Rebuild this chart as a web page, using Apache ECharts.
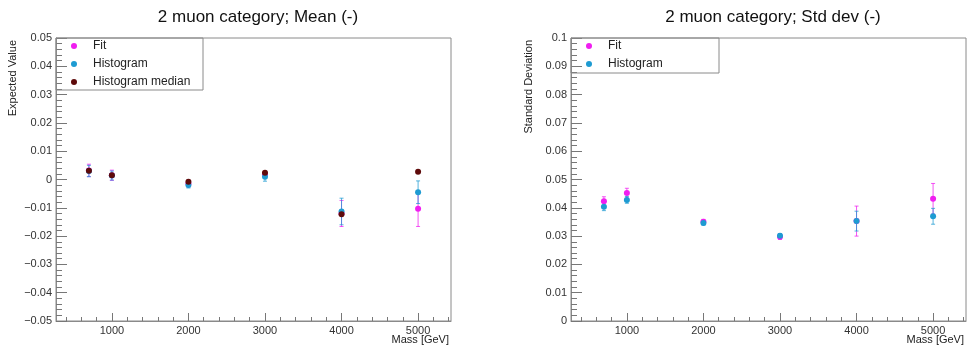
<!DOCTYPE html>
<html>
<head>
<meta charset="utf-8">
<script src="https://cdn.jsdelivr.net/npm/echarts@6/dist/echarts.min.js"></script>
<style>
  html, body { margin: 0; padding: 0; background: #fff; }
  #chart { width: 967px; height: 353px; }
</style>
</head>
<body>
<div id="chart"></div>
<script>
// mass points
const masses = [700, 1000, 2000, 3000, 4000, 5000]
const xMajorTicks = [1000, 2000, 3000, 4000, 5000]
const xMinorTicks = [400, 600, 800, 1200, 1400, 1600, 1800, 2200, 2400, 2600, 2800,
  3200, 3400, 3600, 3800, 4200, 4400, 4600, 4800, 5200, 5400]

// mean (left panel)
const meanFit = [0.0032, 0.0015, -0.0015, 0.0018, -0.0120, -0.0103]
const meanFitErr = [0.0022, 0.0018, 0.0012, 0.0010, 0.0046, 0.0063]
const meanHist = [0.0030, 0.0014, -0.0019, 0.0010, -0.0113, -0.0045]
const meanHistErr = [0.0020, 0.0016, 0.0011, 0.0016, 0.0047, 0.0040]
const meanMedian = [0.0031, 0.0015, -0.0008, 0.0024, -0.0123, 0.0027]

// std dev (right panel)
const sdFit = [0.0423, 0.0452, 0.0351, 0.0298, 0.0353, 0.0432]
const sdFitErr = [0.0016, 0.0017, 0.0008, 0.0010, 0.0053, 0.0054]
const sdHist = [0.0404, 0.0428, 0.0346, 0.0301, 0.0353, 0.0370]
const sdHistErr = [0.0014, 0.0012, 0.0007, 0.0008, 0.0035, 0.0028]

const FIT = '#f01ef0'
const HIST = '#1e9bd2'
const MED = '#5e0a0a'
const FRAME = '#8a8a8a'
const TICK = '#777'
const FONT = 'Liberation Sans, Arial, Helvetica, sans-serif'

const chart = echarts.init(document.getElementById('chart'))

function pts(ys) {
  return masses.map((m, i) => [m, ys[i]])
}
function errs(ys, es) {
  return masses.map((m, i) => [m, ys[i], es[i]])
}
function fmt(v) {
  return parseFloat(v.toFixed(4)).toString().replace('-', '\u2212')
}

function errorSeries(xi, yi, data, color) {
  return {
    type: 'custom',
    xAxisIndex: xi,
    yAxisIndex: yi,
    data: data,
    silent: true,
    z: 1,
    renderItem(params, api) {
      const x = api.value(0), y = api.value(1), e = api.value(2)
      const lo = api.coord([x, y - e])
      const hi = api.coord([x, y + e])
      const st = { stroke: color, lineWidth: 1, opacity: 0.75 }
      return {
        type: 'group',
        children: [
          { type: 'line', shape: { x1: lo[0], y1: lo[1], x2: hi[0], y2: hi[1] }, style: st },
          { type: 'line', shape: { x1: lo[0] - 2, y1: lo[1], x2: lo[0] + 2, y2: lo[1] }, style: st },
          { type: 'line', shape: { x1: hi[0] - 2, y1: hi[1], x2: hi[0] + 2, y2: hi[1] }, style: st }
        ]
      }
    }
  }
}

function dotSeries(name, xi, yi, data, color, z) {
  return {
    name: name,
    type: 'scatter',
    xAxisIndex: xi,
    yAxisIndex: yi,
    data: data,
    symbol: 'circle',
    symbolSize: 6,
    itemStyle: { color: color, opacity: 1 },
    z: z
  }
}

function xAxes(gi) {
  return [
    {
      type: 'value', gridIndex: gi, min: 270, max: 5430, position: 'bottom',
      axisLine: { show: true, onZero: false, lineStyle: { color: FRAME } },
      axisTick: { show: true, inside: true, length: 8, customValues: xMajorTicks, lineStyle: { color: TICK } },
      axisLabel: { customValues: xMajorTicks, margin: 4, fontSize: 11, color: '#333', fontFamily: FONT,
        formatter: v => String(v) },
      splitLine: { show: false }
    },
    {
      type: 'value', gridIndex: gi, min: 270, max: 5430, position: 'bottom',
      axisLine: { show: false, onZero: false },
      axisTick: { show: true, inside: true, length: 4, customValues: xMinorTicks, lineStyle: { color: TICK } },
      axisLabel: { show: false },
      splitLine: { show: false }
    }
  ]
}

function yAxis(gi, min, max) {
  return {
    type: 'value', gridIndex: gi, min: min, max: max, interval: 0.01, position: 'left',
    axisLine: { show: true, onZero: false, lineStyle: { color: FRAME } },
    axisTick: { show: true, inside: true, length: 11, lineStyle: { color: TICK } },
    minorTick: { show: true, splitNumber: 5, length: 6, lineStyle: { color: TICK } },
    axisLabel: { margin: 4, fontSize: 11, color: '#333', fontFamily: FONT, formatter: fmt },
    splitLine: { show: false }
  }
}

const legendCommon = {
  orient: 'vertical',
  padding: 0,
  itemWidth: 6,
  itemHeight: 6,
  itemGap: 4,
  icon: 'circle',
  textStyle: { fontSize: 12, color: '#222', fontFamily: FONT, lineHeight: 14, padding: [0, 0, 0, 11] },
  selectedMode: false
}

chart.setOption({
  animation: false,
  backgroundColor: '#fff',
  title: [
    { text: '2 muon category; Mean (-)', left: 253, top: 4, textAlign: 'center',
      textStyle: { fontSize: 17, fontWeight: 'normal', color: '#111', fontFamily: FONT } },
    { text: '2 muon category; Std dev (-)', left: 768, top: 4, textAlign: 'center',
      textStyle: { fontSize: 17, fontWeight: 'normal', color: '#111', fontFamily: FONT } }
  ],
  grid: [
    { left: 56, top: 38, width: 395, height: 283, show: true, borderColor: FRAME, borderWidth: 1, containLabel: false },
    { left: 571, top: 38, width: 395, height: 283, show: true, borderColor: FRAME, borderWidth: 1, containLabel: false }
  ],
  xAxis: xAxes(0).concat(xAxes(1)),
  yAxis: [yAxis(0, -0.05, 0.05), yAxis(1, 0, 0.1)],
  legend: [
    Object.assign({ left: 71, top: 39, data: ['Fit', 'Histogram', 'Histogram median'] }, legendCommon),
    Object.assign({ left: 586, top: 39, data: ['Fit ', 'Histogram '] }, legendCommon)
  ],
  graphic: [
    { type: 'rect', shape: { x: 56, y: 38, width: 147, height: 52 }, style: { fill: 'none', stroke: FRAME, lineWidth: 1 }, z: 10 },
    { type: 'rect', shape: { x: 571, y: 38, width: 148, height: 35 }, style: { fill: 'none', stroke: FRAME, lineWidth: 1 }, z: 10 },
    { type: 'text', x: 13, y: 40, rotation: Math.PI / 2,
      style: { text: 'Expected Value', align: 'right', verticalAlign: 'middle', fontSize: 11, fill: '#222', fontFamily: FONT } },
    { type: 'text', x: 529, y: 40, rotation: Math.PI / 2,
      style: { text: 'Standard Deviation', align: 'right', verticalAlign: 'middle', fontSize: 11, fill: '#222', fontFamily: FONT } },
    { type: 'text', x: 449, y: 340,
      style: { text: 'Mass [GeV]', align: 'right', verticalAlign: 'middle', fontSize: 11, fill: '#222', fontFamily: FONT } },
    { type: 'text', x: 964, y: 340,
      style: { text: 'Mass [GeV]', align: 'right', verticalAlign: 'middle', fontSize: 11, fill: '#222', fontFamily: FONT } }
  ],
  series: [
    errorSeries(0, 0, errs(meanFit, meanFitErr), FIT),
    dotSeries('Fit', 0, 0, pts(meanFit), FIT, 2),
    errorSeries(0, 0, errs(meanHist, meanHistErr), HIST),
    dotSeries('Histogram', 0, 0, pts(meanHist), HIST, 3),
    dotSeries('Histogram median', 0, 0, pts(meanMedian), MED, 4),
    errorSeries(2, 1, errs(sdFit, sdFitErr), FIT),
    dotSeries('Fit ', 2, 1, pts(sdFit), FIT, 2),
    errorSeries(2, 1, errs(sdHist, sdHistErr), HIST),
    dotSeries('Histogram ', 2, 1, pts(sdHist), HIST, 3)
  ]
})
</script>
</body>
</html>
